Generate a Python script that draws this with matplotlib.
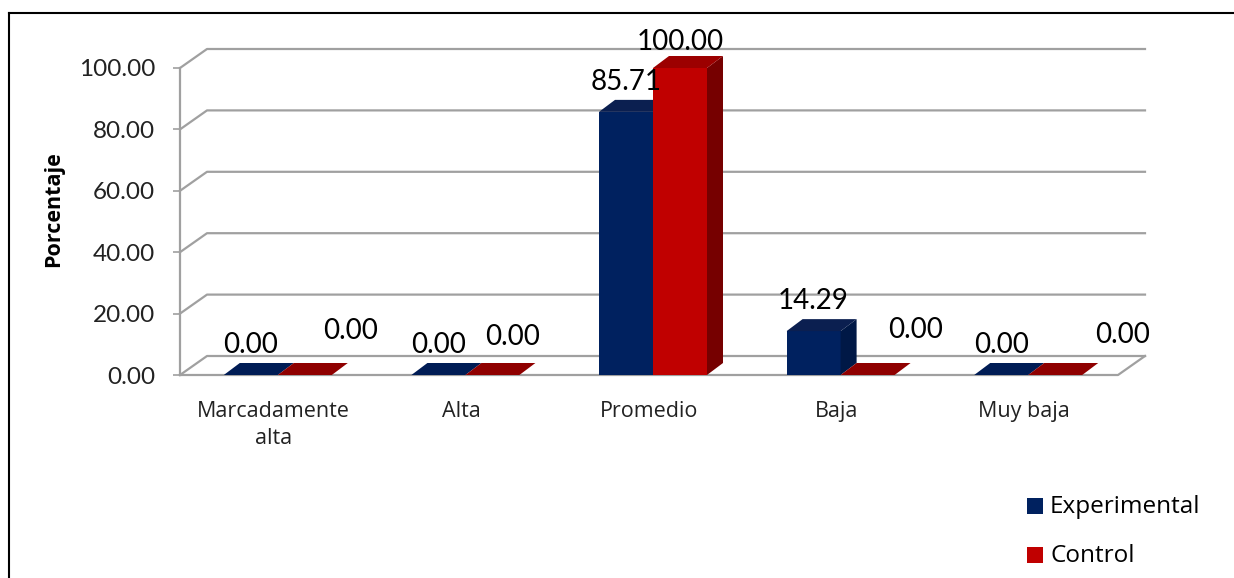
import matplotlib.pyplot as plt
from matplotlib.patches import Polygon, Rectangle
from matplotlib.lines import Line2D

categories = ["Marcadamente\nalta", "Alta", "Promedio", "Baja", "Muy baja"]
experimental = [0.00, 0.00, 85.71, 14.29, 0.00]
control = [0.00, 0.00, 100.00, 0.00, 0.00]
y_ticks = [0, 20, 40, 60, 80, 100]
series_names = ["Experimental", "Control"]

# pixel offsets of the Control value labels (some got pushed sideways)
control_label_dx = [46, 20, 0, 48, 67]
control_label_dy = [36, 30, 18, 37, 32]

plt.rcParams['font.family'] = ['Lato', 'DejaVu Sans']
word_font = ['Open Sans', 'DejaVu Sans']

W, H = 1234, 578
fig = plt.figure(figsize=(W / 100, H / 100), dpi=100)

# the axes is the front plane of the 3d box
x0, x1, y0, y1 = 180, 1118, 375, 68
ax = fig.add_axes([x0 / W, 1 - y0 / H, (x1 - x0) / W, (y0 - y1) / H])
ax.set_xlim(-0.5, 4.5)
ax.set_ylim(0, 100)

ppx = (x1 - x0) / len(categories)   # px per category
ppy = (y0 - y1) / 100.0             # px per percent


def dpx(px):
    return px / ppx


def dpy(px):
    return px / ppy


grid_col = '#a0a0a0'
wdx, wdy = dpx(27), dpy(19)   # wall depth
bdx, bdy = dpx(16), dpy(12)   # bar depth
bw = dpx(54)
shift = dpx(4)

# back wall gridlines + left side diagonals
for t in y_ticks:
    ax.plot([-0.5, -0.5 + wdx, 4.5 + wdx], [t, t + wdy, t + wdy],
            color=grid_col, lw=1.6, clip_on=False, zorder=1)
# floor front edge and right edge
ax.plot([-0.5, 4.5, 4.5 + wdx], [0, 0, wdy], color=grid_col, lw=1.6,
        clip_on=False, zorder=1)
ax.plot([-0.5, -0.5], [0, 100], color=grid_col, lw=1.6, clip_on=False, zorder=1)

for s in ax.spines.values():
    s.set_visible(False)
ax.set_yticks(y_ticks)
ax.set_yticklabels([f"{t:.2f}" for t in y_ticks], fontsize=17.5, color='#222222')
ax.tick_params(axis='y', length=5, width=1.2, color=grid_col, pad=13)
ax.set_xticks([])
ax.set_ylabel("Porcentaje", fontsize=15.5, fontweight='bold', family=word_font)
ax.yaxis.set_label_coords(-0.124, 0.54)

blue = dict(front='#00215f', top='#0b1f50', side='#001846', flat='#001c55')
red = dict(front='#c00000', top='#9c0000', side='#760000', flat='#8f0000')


def bar3d(xl, v, c, z):
    if v > 0:
        ax.add_patch(Rectangle((xl, 0), bw, v, facecolor=c['front'],
                               edgecolor='none', zorder=z, clip_on=False))
        ax.add_patch(Polygon([(xl + bw, 0), (xl + bw + bdx, bdy),
                              (xl + bw + bdx, v + bdy), (xl + bw, v)],
                             facecolor=c['side'], edgecolor='none', zorder=z,
                             clip_on=False))
        ax.add_patch(Polygon([(xl, v), (xl + bw, v), (xl + bw + bdx, v + bdy),
                              (xl + bdx, v + bdy)],
                             facecolor=c['top'], edgecolor='none', zorder=z,
                             clip_on=False))
    else:
        ax.add_patch(Polygon([(xl, 0), (xl + bw, 0), (xl + bw + bdx, bdy),
                              (xl + bdx, bdy)],
                             facecolor=c['flat'], edgecolor='none', zorder=z,
                             clip_on=False))


for i in range(len(categories)):
    xb = i + shift - bw
    xr = i + shift
    bar3d(xb, experimental[i], blue, 2 + 2 * i)
    bar3d(xr, control[i], red, 3 + 2 * i)

    ax.annotate(f"{experimental[i]:.2f}", (xb + bw / 2, experimental[i]),
                xytext=(0, 22), textcoords='offset pixels', ha='center',
                va='baseline', fontsize=20, zorder=20, annotation_clip=False)
    ax.annotate(f"{control[i]:.2f}", (xr + bw / 2, control[i]),
                xytext=(control_label_dx[i], control_label_dy[i]),
                textcoords='offset pixels', ha='center', va='baseline',
                fontsize=20, zorder=20, annotation_clip=False)

    ax.annotate(categories[i], (i, 0), xytext=(0, -26),
                textcoords='offset pixels', ha='center', va='top',
                fontsize=15.5, color='#222222', linespacing=1.4,
                family=word_font, annotation_clip=False)

# legend
leg_cols = [blue['front'], red['front']]
leg_y = [514, 563]
for name, col, yb in zip(series_names, leg_cols, leg_y):
    fig.patches.append(Rectangle((1027 / W, 1 - yb / H), 16 / W, 16 / H,
                                 transform=fig.transFigure, facecolor=col,
                                 edgecolor='none'))
    fig.text(1050 / W, 1 - (yb - 1) / H, name, fontsize=17.5, va='baseline',
             family=word_font)

# chart area border (top and left edges)
fig.add_artist(Line2D([8.5 / W, 1], [1 - 12.5 / H] * 2, color='black', lw=1.5))
fig.add_artist(Line2D([8.5 / W] * 2, [1 - 12.5 / H, 0], color='black', lw=1.5))

fig.savefig('out.png', dpi=100)
